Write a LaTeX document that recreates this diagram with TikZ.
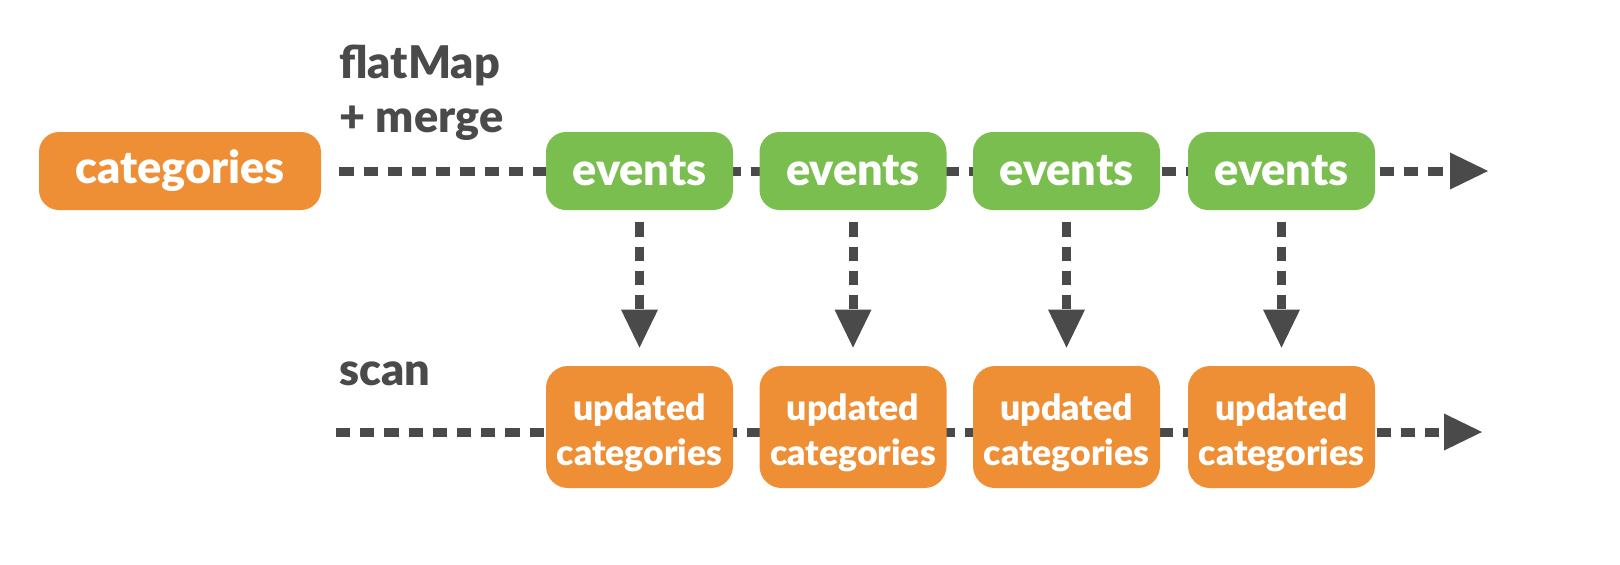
\documentclass[tikz,border=0pt]{standalone}
\usepackage{fontspec}
\setmainfont{Lato}[BoldFont={Lato Black}]
\usetikzlibrary{arrows.meta,backgrounds}
\definecolor{orng}{HTML}{EF8F35}
\definecolor{grn}{HTML}{79BE4E}
\definecolor{dgray}{HTML}{4A4A4A}
\begin{document}
\begin{tikzpicture}[x=0.5pt,y=-0.5pt,
  box/.style={rounded corners=10pt, minimum width=93.5pt, minimum height=39pt, inner sep=0pt, text=white,
    font=\bfseries\fontsize{22.5}{27}\selectfont},
  ev/.style={box, fill=grn},
  upd/.style={box, fill=orng, minimum height=61pt, rounded corners=11pt, align=center,
    font=\bfseries\fontsize{17.8}{22.5}\selectfont},
  lbl/.style={anchor=base west, inner sep=0pt, text=dgray, font=\bfseries\fontsize{22.5}{27}\selectfont},
  dline/.style={draw=dgray, line width=4.5pt, dash pattern=on 7.1pt off 5pt,
    -{Triangle[length=19pt,width=18.5pt,line width=0pt]}},
]
\useasboundingbox (0,0) rectangle (1620,564);
\node[box, fill=orng, minimum width=141pt] (cat) at (180,171) {categories};
\node[ev] (e1) at (639.5,171) {events};
\node[ev] (e2) at (853,171) {events};
\node[ev] (e3) at (1066.5,171) {events};
\node[ev] (e4) at (1281.5,171) {events};
\node[upd] (u1) at (639.5,427) {\rule{0pt}{19pt}updated\\categories};
\node[upd] (u2) at (853,427) {\rule{0pt}{19pt}updated\\categories};
\node[upd] (u3) at (1066.5,427) {\rule{0pt}{19pt}updated\\categories};
\node[upd] (u4) at (1281.5,427) {\rule{0pt}{19pt}updated\\categories};
\node[lbl] (l1) at (339,78) {flatMap};
\node[lbl] (l2) at (339,132) {+ merge};
\node[lbl] (l3) at (339,385) {scan};
\coordinate (ue) at (1488,171);
\coordinate (ls) at (336,432);
\coordinate (le) at (1482,432);
\begin{scope}[on background layer]
  \draw[dline, shorten <=9pt] (cat.east) -- (ue);
  \draw[dline] (ls) -- (le);
  \foreach \i in {1,2,3,4}
    \draw[dline, shorten <=6pt, shorten >=9pt] (e\i.south) -- (u\i.north);
\end{scope}
\end{tikzpicture}
\end{document}
